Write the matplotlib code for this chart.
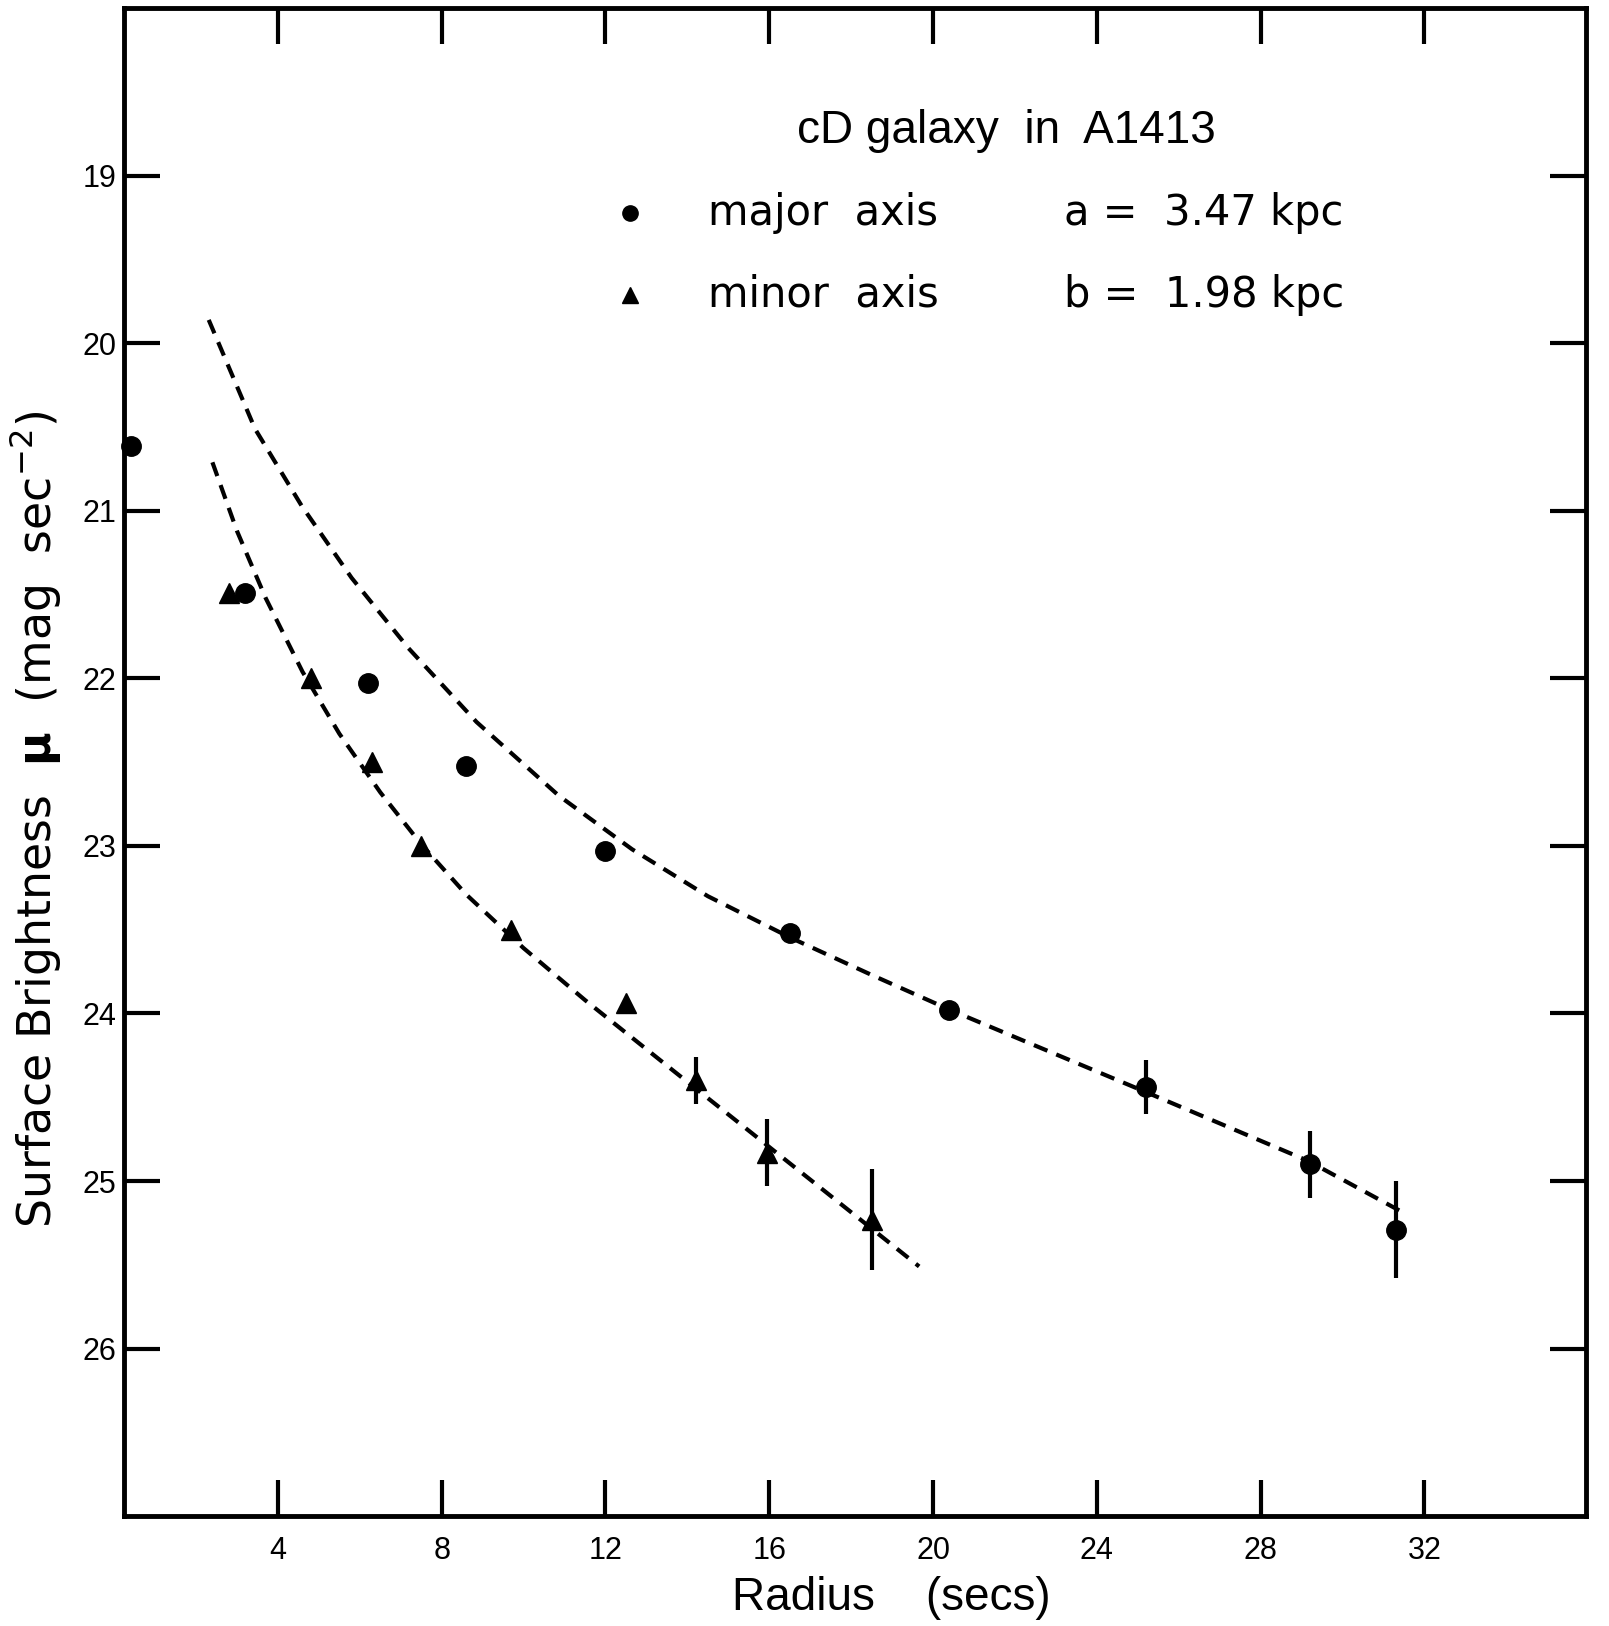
import numpy as np
import matplotlib
matplotlib.use('Agg')
import matplotlib.pyplot as plt

##Data
major_r = [0.4, 3.2, 6.2, 8.6, 12.0, 16.5, 20.4, 25.2, 29.2, 31.3]
major_mu = [20.61, 21.49, 22.03, 22.52, 23.03, 23.52, 23.98, 24.44, 24.90, 25.29]
major_err = [0, 0, 0, 0, 0, 0, 0, 0.16, 0.20, 0.29]

minor_r = [2.8, 4.8, 6.3, 7.5, 9.7, 12.5, 14.2, 15.95, 18.5]
minor_mu = [21.49, 22.00, 22.50, 23.00, 23.50, 23.94, 24.40, 24.83, 25.23]
minor_err = [0, 0, 0, 0, 0, 0, 0.14, 0.20, 0.30]

##Dashed fit curves (traced by eye)
major_fit_r = [2.31, 3.44, 4.58, 5.80, 7.19, 8.85, 10.86, 12.65, 14.5, 16.54, 18.5, 20.43, 25.11, 29.16, 31.57]
major_fit_mu = [19.86, 20.51, 20.97, 21.40, 21.82, 22.26, 22.70, 23.02, 23.30, 23.55, 23.77, 23.98, 24.46, 24.88, 25.20]

minor_fit_r = [2.40, 3.0, 3.7, 4.6, 5.5, 6.5, 7.5, 8.6, 10.0, 11.5, 13.7, 15.45, 17.3, 19.66]
minor_fit_mu = [20.71, 21.12, 21.52, 21.96, 22.33, 22.68, 22.99, 23.29, 23.61, 23.92, 24.35, 24.69, 25.05, 25.51]

x_ticks = [4, 8, 12, 16, 20, 24, 28, 32]
y_ticks = [19, 20, 21, 22, 23, 24, 25, 26]

lib = ['Liberation Sans', 'DejaVu Sans']
dv = ['DejaVu Sans']

fig = plt.figure(figsize=(16.09, 16.26), dpi=100)
ax = fig.add_axes([0.0773, 0.0676, 0.9085, 0.9273])

dash = (3.5, 2.3)
ax.plot(major_fit_r, major_fit_mu, color='black', lw=3, dashes=dash)
ax.plot(minor_fit_r, minor_fit_mu, color='black', lw=3, dashes=dash)

ax.errorbar(major_r, major_mu, yerr=major_err, fmt='o', color='black', ms=14,
            elinewidth=3, capsize=0, clip_on=False, zorder=5)
ax.errorbar(minor_r, minor_mu, yerr=minor_err, fmt='^', color='black', ms=14,
            elinewidth=3, capsize=0, clip_on=False, zorder=5)

ax.set_xlim(0.25, 35.95)
ax.set_ylim(27.0, 18.0)

ax.set_xticks(x_ticks)
ax.set_yticks(y_ticks)
ax.tick_params(direction='in', length=26, width=3, top=True, right=True,
               labeltop=False, labelright=False)
ax.tick_params(axis='x', pad=14)
ax.tick_params(axis='y', pad=6)
for lab in ax.get_xticklabels() + ax.get_yticklabels():
    lab.set_family(lib)
    lab.set_fontsize(22)
for s in ax.spines.values():
    s.set_linewidth(3.5)

ax.set_xlabel('Radius    (secs)', family=lib, fontsize=33)
ax.xaxis.set_label_coords(0.525, -0.040)
ax.set_ylabel(r'Surface Brightness  $\mathbf{\mu}$  (mag  sec$^{-2}$)', family=dv, fontsize=33)
ax.yaxis.set_label_coords(-0.042, 0.462)

##Legend block written in by hand, like the original
ax.text(21.8, 18.73, 'cD galaxy  in  A1413', family=lib, fontsize=33,
        ha='center', va='center')
ax.plot([12.6], [19.22], 'o', color='black', ms=11)
ax.plot([12.6], [19.71], '^', color='black', ms=11)
ax.text(14.5, 19.22, 'major  axis', family=dv, fontsize=30, va='center')
ax.text(14.5, 19.71, 'minor  axis', family=dv, fontsize=30, va='center')
ax.text(23.2, 19.22, 'a =  3.47 kpc', family=dv, fontsize=30, va='center')
ax.text(23.2, 19.71, 'b =  1.98 kpc', family=dv, fontsize=30, va='center')

fig.savefig('out.png', dpi=100)
